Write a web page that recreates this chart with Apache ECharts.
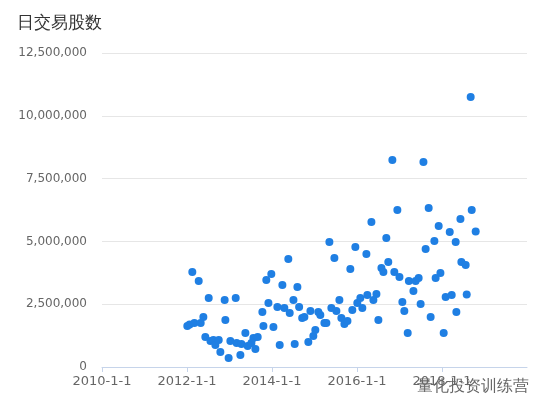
<!DOCTYPE html>
<html>
<head>
<meta charset="utf-8">
<title>日交易股数</title>
<script src="https://cdn.jsdelivr.net/npm/echarts@6/dist/echarts.min.js"></script>
<style>
  html, body { margin: 0; padding: 0; background: #fff; }
  #chart { width: 540px; height: 409px; }
</style>
</head>
<body>
<div id="chart"></div>
<script>
// trade dates (x) and daily traded shares (y)
var tradeDates = [
  '2012-01-04','2012-01-24','2012-02-16','2012-03-05','2012-04-11','2012-04-28','2012-05-21','2012-06-07',
  '2012-07-06','2012-07-21','2012-08-15','2012-09-01','2012-09-30','2012-10-14','2012-11-20','2012-11-26',
  '2012-12-24','2013-01-08','2013-02-23','2013-03-03','2013-04-04','2013-04-13','2013-05-17','2013-06-06',
  '2013-07-08','2013-07-25','2013-08-11','2013-08-31','2013-10-10','2013-10-19','2013-11-13','2013-12-01',
  '2013-12-26','2014-01-13','2014-02-16','2014-03-08','2014-03-31','2014-04-17','2014-05-21','2014-06-02',
  '2014-07-04','2014-07-15','2014-08-07','2014-08-22','2014-09-17','2014-10-06','2014-11-09','2014-11-27',
  '2014-12-22','2015-01-08','2015-02-03','2015-02-20','2015-03-27','2015-04-13','2015-05-09','2015-05-26',
  '2015-06-21','2015-07-08','2015-08-03','2015-08-20','2015-09-15','2015-10-11','2015-11-05','2015-11-22',
  '2015-12-18','2016-01-04','2016-01-30','2016-02-16','2016-03-22','2016-03-30','2016-05-04','2016-05-21',
  '2016-06-16','2016-07-03','2016-07-29','2016-08-15','2016-09-09','2016-09-26','2016-10-31','2016-11-17',
  '2016-12-13','2016-12-31','2017-01-25','2017-02-11','2017-03-12','2017-03-22','2017-04-30','2017-05-19',
  '2017-06-14','2017-07-01','2017-07-25','2017-08-13','2017-09-08','2017-09-25','2017-10-27','2017-11-07',
  '2017-12-03','2017-12-18','2018-01-15','2018-02-01','2018-03-08','2018-03-25','2018-04-28','2018-05-04',
  '2018-06-08','2018-06-16','2018-07-23','2018-08-01','2018-09-04','2018-09-13','2018-10-17'
];
var sharesTraded = [
  1632000,1688000,3782000,1752000,3424000,1752000,1990000,1194000,
  2747000,1035000,1075000,876000,1075000,597000,2667000,1871000,
  358000,1035000,2747000,955000,478000,916000,1354000,836000,
  955000,1154000,717000,1194000,2189000,1632000,3463000,2548000,
  3702000,1592000,2389000,876000,3264000,2349000,4299000,2150000,
  2667000,916000,3185000,2389000,1951000,1990000,995000,2229000,
  1234000,1473000,2189000,2070000,1752000,1752000,4976000,2349000,
  4339000,2229000,2667000,1951000,1712000,1831000,3901000,2269000,
  4777000,2548000,2747000,2349000,4498000,2866000,5772000,2667000,
  2906000,1871000,3941000,3782000,5135000,4180000,8240000,3782000,
  6250000,3583000,2588000,2229000,1354000,3424000,3025000,3424000,
  3543000,2508000,8161000,4697000,6330000,1990000,5016000,3543000,
  5613000,3742000,1354000,2787000,5374000,2866000,4976000,2189000,
  5892000,4180000,4061000,2882000,10748000,6250000,5390000
];

var points = [];
for (var i = 0; i < tradeDates.length; i++) {
  points.push([tradeDates[i], sharesTraded[i]]);
}

var myChart = echarts.init(document.getElementById('chart'));
myChart.setOption({
  animation: false,
  title: {
    text: '日交易股数',
    left: 12,
    top: 10,
    textStyle: { fontSize: 17, fontWeight: 'normal', color: '#333' }
  },
  grid: { left: 102, right: 13, top: 53, bottom: 42 },
  xAxis: {
    type: 'time',
    min: '2010-01-01',
    max: '2020-01-01',
    splitNumber: 5,
    axisLine: { lineStyle: { color: '#c6d4ea' } },
    axisTick: { lineStyle: { color: '#c6d4ea' } },
    splitLine: { show: false },
    axisLabel: {
      color: '#666',
      fontFamily: 'DejaVu Sans',
      fontSize: 13,
      showMaxLabel: false,
      formatter: '{yyyy}-{M}-{d}'
    }
  },
  yAxis: {
    type: 'value',
    min: 0,
    max: 12500000,
    interval: 2500000,
    axisLine: { show: false },
    axisTick: { show: false },
    splitLine: { lineStyle: { color: '#e6e6e6' } },
    axisLabel: {
      color: '#666',
      fontFamily: 'DejaVu Sans',
      fontSize: 12,
      margin: 15,
      formatter: function (v) {
        return String(v).replace(/\B(?=(\d{3})+(?!\d))/g, ',');
      }
    }
  },
  series: [
    {
      type: 'scatter',
      symbolSize: 8,
      itemStyle: { color: '#1f7fe3', opacity: 1 },
      data: points
    }
  ],
  graphic: [
    {
      type: 'text',
      right: 10,
      bottom: 13,
      style: {
        text: '量化投资训练营',
        fontSize: 16,
        fill: '#666',
        stroke: '#fff',
        lineWidth: 3
      }
    }
  ]
});
</script>
</body>
</html>
